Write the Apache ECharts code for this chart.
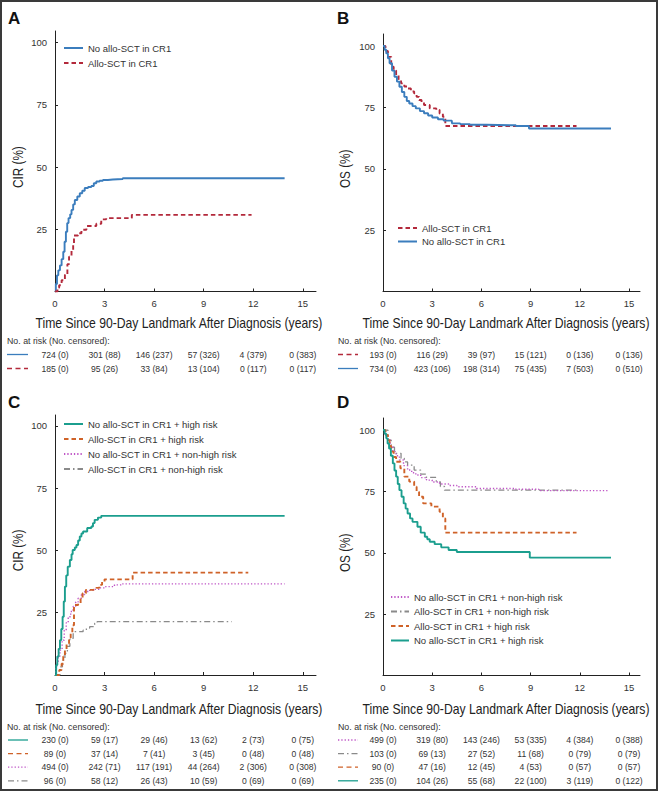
<!DOCTYPE html>
<html><head><meta charset="utf-8">
<script src="https://cdn.jsdelivr.net/npm/echarts@6/dist/echarts.min.js"></script>
<style>html,body{margin:0;padding:0;background:#fff}#c{width:659px;height:792px}</style>
</head><body><div id="c"></div>
<script>
// ---------- tick labels ----------
const xTicks = [0, 3, 6, 9, 12, 15];
const yTicks = [25, 50, 75, 100];
const xTitle = 'Time Since 90-Day Landmark After Diagnosis (years)';
const riskHeader = 'No. at risk (No. censored):';

// ---------- series names ----------
const nNoAllo = 'No allo-SCT in CR1';
const nAllo = 'Allo-SCT in CR1';
const nNoAlloHigh = 'No allo-SCT in CR1 + high risk';
const nAlloHigh = 'Allo-SCT in CR1 + high risk';
const nNoAlloNon = 'No allo-SCT in CR1 + non-high risk';
const nAlloNon = 'Allo-SCT in CR1 + non-high risk';

// ---------- Panel A: CIR ----------
const A_noAllo = [[0,0],[0.05,3],[0.12,6.5],[0.2,8.5],[0.3,10.5],[0.4,13],[0.5,16],[0.58,20],[0.66,24],[0.74,27.5],[0.82,29.5],[0.92,31],[1.0,32.8],[1.1,35],[1.2,36.8],[1.35,38.2],[1.5,39.5],[1.65,40.5],[1.8,41.6],[2.0,42],[2.2,42.4],[2.35,43.5],[2.5,44.2],[2.7,44.5],[2.9,44.8],[3.2,45],[3.5,45.2],[4.1,45.5],[13.9,45.5]];
const A_allo = [[0,0],[0.15,1.5],[0.25,2.5],[0.4,4.5],[0.6,6.7],[0.75,11],[0.85,14],[1.0,16.7],[1.1,19],[1.15,22.5],[1.4,23.4],[1.6,24.8],[1.9,26.3],[2.5,27.2],[2.8,29],[3.1,29.5],[4.65,30.8],[11.9,30.8]];
const A_riskNoAllo = ['724 (0)','301 (88)','146 (237)','57 (326)','4 (379)','0 (383)'];
const A_riskAllo = ['185 (0)','95 (26)','33 (84)','13 (104)','0 (117)','0 (117)'];

// ---------- Panel B: OS ----------
const B_allo = [[0,100],[0.15,98],[0.3,95.6],[0.5,91.6],[0.65,90],[0.8,88.2],[0.95,86.5],[1.1,84.8],[1.3,83.5],[1.5,82.7],[1.7,81.5],[1.9,80.7],[2.05,79.3],[2.2,78],[2.35,77],[2.5,76],[2.85,74.6],[3.25,74],[3.45,72.5],[3.65,71.2],[3.8,67.4],[11.8,67.4]];
const B_noAllo = [[0,100],[0.1,98.5],[0.2,97],[0.3,95],[0.4,93],[0.55,90],[0.7,87.5],[0.85,85.5],[1.0,83.4],[1.15,81.3],[1.3,79.3],[1.45,77.6],[1.6,76.6],[1.8,75.5],[2.0,74.6],[2.25,73.5],[2.5,72.6],[2.75,71.7],[3.0,70.9],[3.35,70.2],[3.7,69.6],[4.2,68.5],[4.7,68.2],[5.3,67.9],[6.3,67.7],[8.1,67.4],[8.9,66.4],[13.9,66.4]];
const B_riskAllo = ['193 (0)','116 (29)','39 (97)','15 (121)','0 (136)','0 (136)'];
const B_riskNoAllo = ['734 (0)','423 (106)','198 (314)','75 (435)','7 (503)','0 (510)'];

// ---------- Panel C: CIR by risk ----------
const C_noAlloHigh = [[0,0],[0.07,4],[0.14,7.4],[0.22,10.5],[0.3,14],[0.38,18.5],[0.46,23.4],[0.53,29.5],[0.6,35.5],[0.68,40],[0.77,43.5],[0.9,46.2],[1.0,48.5],[1.07,50.2],[1.2,51.2],[1.3,52.2],[1.4,54],[1.5,55.6],[1.6,56.8],[1.7,57.6],[1.95,59],[2.2,59.6],[2.3,61],[2.4,62.3],[2.6,63.2],[2.8,63.9],[13.9,63.9]];
const C_alloHigh = [[0,0],[0.26,2],[0.4,4.5],[0.5,7.4],[0.6,10],[0.7,12.7],[0.85,15],[0.95,16.7],[1.05,20],[1.15,28.1],[1.4,28.8],[1.55,31],[1.67,32.8],[1.87,34.2],[2.3,34.4],[2.5,35],[2.68,36.2],[2.85,37.5],[3.0,38.4],[4.7,41.1],[11.7,41.1]];
const C_noAlloNon = [[0,0],[0.05,2.5],[0.1,4.7],[0.2,7.5],[0.3,10],[0.43,14],[0.56,18],[0.68,21],[0.8,23.4],[0.95,25.5],[1.1,27.5],[1.25,29.3],[1.4,30.8],[1.6,32.3],[1.8,33.5],[2.1,34],[2.4,34.4],[2.7,35],[3.0,35.5],[3.6,36.2],[4.0,36.6],[13.9,36.6]];
const C_alloNon = [[0,0],[0.3,3.3],[0.45,6],[0.6,8.7],[0.75,11.5],[0.9,14.7],[1.1,17.4],[1.7,18],[1.9,18.8],[2.1,19.4],[2.4,20.8],[2.55,21.4],[10.7,21.4]];
const C_riskNoAlloHigh = ['230 (0)','59 (17)','29 (46)','13 (62)','2 (73)','0 (75)'];
const C_riskAlloHigh = ['89 (0)','37 (14)','7 (41)','3 (45)','0 (48)','0 (48)'];
const C_riskNoAlloNon = ['494 (0)','242 (71)','117 (191)','44 (264)','2 (306)','0 (308)'];
const C_riskAlloNon = ['96 (0)','58 (12)','26 (43)','10 (59)','0 (69)','0 (69)'];

// ---------- Panel D: OS by risk ----------
const D_noAlloNon = [[0,100],[0.15,98],[0.3,95.9],[0.45,93.5],[0.6,91.2],[0.8,89.5],[1.0,87.8],[1.25,85.5],[1.5,83.7],[1.75,82.6],[2.0,81.7],[2.3,80.6],[2.65,79.6],[3.0,78.8],[3.45,78],[4.0,77.4],[4.5,76.9],[5.7,76.2],[8.1,75.9],[9.5,75.3],[13.7,75.3]];
const D_alloNon = [[0,100],[0.3,95.9],[0.5,93],[0.7,90.5],[1.1,88.5],[1.3,87],[1.5,85.7],[1.9,83.7],[2.3,82],[2.65,80.7],[3.25,78.9],[3.5,77],[3.75,75.5],[11.8,75.5]];
const D_alloHigh = [[0,100],[0.15,98],[0.3,95.9],[0.4,93.5],[0.5,91.2],[0.65,89],[0.8,87.1],[1.06,84.4],[1.3,81],[1.6,79],[1.9,76.9],[2.05,74.8],[2.2,72.8],[2.45,70.1],[2.95,68.8],[3.45,66.7],[3.65,64],[3.8,58.2],[11.8,58.2]];
const D_noAlloHigh = [[0,100],[0.1,98.5],[0.2,96.6],[0.28,94.5],[0.37,92.5],[0.48,89.5],[0.6,86.4],[0.7,83.5],[0.8,81],[0.9,78],[1.0,75.5],[1.13,72.8],[1.26,70.1],[1.38,68],[1.5,66],[1.65,64],[1.8,62.6],[2.1,60.6],[2.3,58.2],[2.55,56.5],[2.7,55.5],[2.85,54.5],[3.15,53.5],[3.55,52.2],[4.0,51.1],[4.5,50.3],[8.95,48],[13.9,48]];
const D_riskNoAlloNon = ['499 (0)','319 (80)','143 (246)','53 (335)','4 (384)','0 (388)'];
const D_riskAlloNon = ['103 (0)','69 (13)','27 (52)','11 (68)','0 (79)','0 (79)'];
const D_riskAlloHigh = ['90 (0)','47 (16)','12 (45)','4 (53)','0 (57)','0 (57)'];
const D_riskNoAlloHigh = ['235 (0)','104 (26)','55 (68)','22 (100)','3 (119)','0 (122)'];

// ---------- styles ----------
const FONT = "'Liberation Sans', Arial, sans-serif";
const ST = {
  noAllo: {color:'#3b7dbd', type:'solid', width:1.9, dash:null},
  allo: {color:'#b3293b', type:[4.5,3], width:1.9, dash:[5,3.5]},
  noAlloHigh: {color:'#1b9e8e', type:'solid', width:1.9, dash:null},
  alloHigh: {color:'#cf6228', type:[4.5,3], width:1.9, dash:[5,3.5]},
  noAlloNon: {color:'#bf55c6', type:[1.3,2], width:1.4, dash:[1.3,2]},
  alloNon: {color:'#8a8a8a', type:[6,3,1.5,3], width:1.3, dash:[6,3,1.5,3]}
};

const grids = [
  {left:55, top:31, width:261, height:260.5},
  {left:383, top:34, width:257, height:257.5},
  {left:55, top:415, width:261, height:260},
  {left:383, top:418, width:257, height:257.5}
];
const xMax = [15.8, 15.67, 15.8, 15.67];
const yMax = [104.7, 104.9, 104.4, 104.9];

function xAxisCfg(i) {
  return {type:'value', gridIndex:i, min:0, max:xMax[i], interval:3,
    axisLine:{show:true, lineStyle:{color:'#222', width:1}},
    axisTick:{show:true, inside:true, length:3, customValues:xTicks, lineStyle:{color:'#222'}},
    axisLabel:{customValues:xTicks, fontSize:9.5, color:'#333', margin:7, fontFamily:FONT},
    splitLine:{show:false}};
}
function yAxisCfg(i) {
  return {type:'value', gridIndex:i, min:0, max:yMax[i], interval:25,
    axisLine:{show:true, lineStyle:{color:'#222', width:1}},
    axisTick:{show:true, inside:true, length:3, customValues:yTicks, lineStyle:{color:'#222'}},
    axisLabel:{customValues:yTicks, fontSize:9.5, color:'#333', margin:8, fontFamily:FONT},
    splitLine:{show:false}};
}
function ser(name, data, st, g) {
  const s = ST[st];
  return {type:'line', name, data, step:'end', xAxisIndex:g, yAxisIndex:g,
    symbol:'none', showSymbol:false, silent:true,
    lineStyle:{color:s.color, width:s.width, type:s.type},
    itemStyle:{color:s.color}};
}
function legendCfg(data, left, top, gap, w) {
  return {data, left, top, orient:'vertical', itemWidth:w, itemHeight:8, itemGap:gap,
    selectedMode:false, padding:0,
    itemStyle:{opacity:0, borderWidth:0},
    textStyle:{fontSize:9.5, color:'#333', fontFamily:FONT}};
}

const option = {
  animation:false,
  backgroundColor:'#fff',
  grid: grids.map(g => Object.assign({containLabel:false}, g)),
  xAxis: [0,1,2,3].map(xAxisCfg),
  yAxis: [0,1,2,3].map(yAxisCfg),
  legend: [
    legendCfg([nNoAllo, nAllo], 63, 43, 5, 19),
    legendCfg([nAllo, nNoAllo], 397, 223, 3.5, 19),
    legendCfg([nNoAlloHigh, nAlloHigh, nNoAlloNon, nAlloNon], 63, 419, 5, 19),
    legendCfg([nNoAlloNon, nAlloNon, nAlloHigh, nNoAlloHigh], 390, 592, 4.5, 18)
  ],
  series: [
    ser(nNoAllo, A_noAllo, 'noAllo', 0),
    ser(nAllo, A_allo, 'allo', 0),
    ser(nAllo, B_allo, 'allo', 1),
    ser(nNoAllo, B_noAllo, 'noAllo', 1),
    ser(nAlloNon, C_alloNon, 'alloNon', 2),
    ser(nNoAlloNon, C_noAlloNon, 'noAlloNon', 2),
    ser(nAlloHigh, C_alloHigh, 'alloHigh', 2),
    ser(nNoAlloHigh, C_noAlloHigh, 'noAlloHigh', 2),
    ser(nAlloNon, D_alloNon, 'alloNon', 3),
    ser(nNoAlloNon, D_noAlloNon, 'noAlloNon', 3),
    ser(nAlloHigh, D_alloHigh, 'alloHigh', 3),
    ser(nNoAlloHigh, D_noAlloHigh, 'noAlloHigh', 3)
  ]
};

const chart = echarts.init(document.getElementById('c'), null, {renderer:'svg', width:659, height:792});
chart.setOption(option);

// ---------- annotations (letters, axis titles, at-risk tables) ----------
const panels = [
  {g:0, letter:'A', lx:8, ly:18, yName:'CIR (%)', ynx:18, titleY:323, iconX:[7,28], headX:7, headY:341, row0:354.5, step:14,
   rows:[[A_riskNoAllo,'noAllo'],[A_riskAllo,'allo']]},
  {g:1, letter:'B', lx:337, ly:18, yName:'OS (%)', ynx:345, titleY:323, iconX:[338,358], headX:338, headY:341, row0:354.5, step:14,
   rows:[[B_riskAllo,'allo'],[B_riskNoAllo,'noAllo']]},
  {g:2, letter:'C', lx:8, ly:402, yName:'CIR (%)', ynx:18, titleY:709, iconX:[8,28], headX:7, headY:727, row0:740, step:13.6,
   rows:[[C_riskNoAlloHigh,'noAlloHigh'],[C_riskAlloHigh,'alloHigh'],[C_riskNoAlloNon,'noAlloNon'],[C_riskAlloNon,'alloNon']]},
  {g:3, letter:'D', lx:337, ly:402, yName:'OS (%)', ynx:345, titleY:709, iconX:[338,358], headX:338, headY:727, row0:740, step:13.6,
   rows:[[D_riskNoAlloNon,'noAlloNon'],[D_riskAlloNon,'alloNon'],[D_riskAlloHigh,'alloHigh'],[D_riskNoAlloHigh,'noAlloHigh']]}
];

const els = [];
els.push({type:'rect', shape:{x:1, y:1, width:656, height:789}, style:{fill:'none', stroke:'#3a3a3a', lineWidth:2}, silent:true});
panels.forEach(p => {
  const px = v => chart.convertToPixel({xAxisIndex:p.g}, v);
  const py = v => chart.convertToPixel({yAxisIndex:p.g}, v);
  els.push({type:'text', x:p.lx, y:p.ly, style:{text:p.letter, fontSize:17, fontWeight:'bold', fontFamily:FONT, fill:'#111', align:'left', verticalAlign:'middle'}});
  els.push({type:'text', x:p.ynx, y:py(50), rotation:Math.PI/2, scaleX:0.84, style:{text:p.yName, fontSize:14, fontFamily:FONT, fill:'#222', align:'center', verticalAlign:'middle'}});
  els.push({type:'text', x:px(7.5), y:p.titleY, scaleX:0.84, style:{text:xTitle, fontSize:14.5, fontFamily:FONT, fill:'#222', align:'center', verticalAlign:'middle'}});
  els.push({type:'text', x:p.headX, y:p.headY, style:{text:riskHeader, fontSize:8.8, fontFamily:FONT, fill:'#333', align:'left', verticalAlign:'middle'}});
  p.rows.forEach((r, k) => {
    const y = p.row0 + k * p.step;
    const s = ST[r[1]];
    els.push({type:'line', shape:{x1:p.iconX[0], y1:y, x2:p.iconX[1], y2:y}, style:{stroke:s.color, lineWidth:1.3, lineDash:s.dash}});
    r[0].forEach((t, j) => {
      els.push({type:'text', x:px(xTicks[j]), y:y, style:{text:t, fontSize:8.6, fontFamily:FONT, fill:'#333', align:'center', verticalAlign:'middle'}});
    });
  });
});
chart.setOption({graphic:{elements:els}});
</script>
</body></html>
